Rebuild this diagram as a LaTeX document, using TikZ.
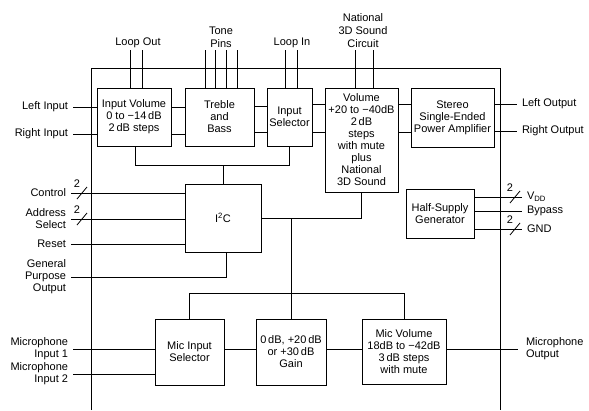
\documentclass[tikz,border=0pt]{standalone}
\usepackage{fontspec}
\setmainfont{Liberation Sans}
\usetikzlibrary{calc}

\newcommand{\buswidth}[2]{%
  \draw (#1) ++(-5,6) -- ++(10,-12);
  \node[font=\fontsize{11}{12}\selectfont,inner sep=0] (#2) at ($(#1)+(-5,-9)$) {2};}

\begin{document}
\begin{tikzpicture}[x=1pt,y=-1pt,line width=0.8pt,
    blk/.style={draw,align=center,inner sep=0,font=\fontsize{11}{12}\selectfont},
    lbl/.style={align=right,inner sep=0,outer sep=5pt,anchor=east,font=\fontsize{11}{12}\selectfont},
    rlbl/.style={align=left,inner sep=0,outer sep=5pt,anchor=west,font=\fontsize{11}{12}\selectfont},
    toplbl/.style={align=center,inner sep=0,anchor=south,font=\fontsize{11}{13}\selectfont}]
  \useasboundingbox (0,0) rectangle (589,410);

  % Chip outline (open at the bottom)
  \draw (91,410) -- (91,68) -- (500,68) -- (500,410);

  % Audio path blocks
  \node[blk,minimum width=74,minimum height=58] (invol) at (134,117)
    {Input Volume\\0 to −14\,dB\\2\,dB steps};
  \node[blk,minimum width=69,minimum height=58] (tone) at (219.5,117)
    {Treble\\and\\Bass};
  \node[blk,minimum width=45,minimum height=58] (insel) at (289.5,117)
    {Input\\Selector};
  \node[blk,minimum width=73,minimum height=104] (vol) at (361.5,140)
    {Volume\\+20 to −40dB\\2\,dB\\steps\\with mute\\plus\\National\\3D Sound};
  \node[blk,minimum width=83,minimum height=59] (amp) at (452.5,117.5)
    {Stereo\\Single-Ended\\Power Amplifier};

  % Control and supply blocks
  \node[blk,minimum width=76,minimum height=68] (i2c) at (223,218) {I\textsuperscript{2}C};
  \node[blk,minimum width=68,minimum height=49] (half) at (440,213.5)
    {Half-Supply\\Generator};

  % Microphone path blocks
  \node[blk,minimum width=69,minimum height=66] (micsel) at (189.5,352)
    {Mic Input\\Selector};
  \node[blk,minimum width=70,minimum height=66] (gain) at (291,352)
    {0\,dB, +20\,dB\\or +30\,dB\\Gain};
  \node[blk,minimum width=84,minimum height=65] (micvol) at (404,351.5)
    {Mic Volume\\18dB to −42dB\\3\,dB steps\\with mute};

  % Stereo signal pairs
  \node[lbl] (lin) at (73,107) {Left Input};
  \node[lbl] (rin) at (73,134) {Right Input};
  \draw (lin.east) -- (invol.west |- lin);
  \draw (rin.east) -- (invol.west |- rin);
  \draw (invol.east |- 0,107) -- (tone.west |- 0,107);
  \draw (invol.east |- 0,134) -- (tone.west |- 0,134);
  \draw (tone.east |- 0,106) -- (insel.west |- 0,106);
  \draw (tone.east |- 0,132) -- (insel.west |- 0,132);
  \draw (insel.east |- 0,104) -- (vol.west |- 0,104);
  \draw (insel.east |- 0,132) -- (vol.west |- 0,132);
  \draw (vol.east |- 0,104) -- (amp.west |- 0,104);
  \draw (vol.east |- 0,132) -- (amp.west |- 0,132);
  \node[rlbl] (lout) at (517,104) {Left Output};
  \node[rlbl] (rout) at (517,131) {Right Output};
  \draw (amp.east |- lout) -- (lout.west);
  \draw (amp.east |- rout) -- (rout.west);

  % External pins on top
  \node[toplbl] (loopout) at (138,48) {Loop Out};
  \node[toplbl] (tonepins) at (221,48) {Tone\\Pins};
  \node[toplbl] (loopin) at (292,48) {Loop In};
  \node[toplbl] (nat) at (363,48) {National\\3D Sound\\Circuit};
  \foreach \x in {130,142} \draw (\x,50) -- (invol.north -| \x,0);
  \foreach \x in {205,215,226,237} \draw (\x,50) -- (tone.north -| \x,0);
  \foreach \x in {285,297} \draw (\x,50) -- (insel.north -| \x,0);
  \foreach \x in {355,373} \draw (\x,50) -- (vol.north -| \x,0);

  % Control bus
  \coordinate (cbus) at (0,165);
  \draw (invol.south -| 135,0) |- (cbus -| insel.south) -- (insel.south);
  \draw (cbus -| i2c.north) -- (i2c.north);
  \draw (i2c.east) -| (vol.south);
  \coordinate (mbus) at (0,293);
  \draw (i2c.east -| gain.north) -- (gain.north);
  \draw (micsel.north) |- (mbus -| micvol.north) -- (micvol.north);

  % I2C inputs
  \node[lbl] (ctl) at (71,193) {Control};
  \node[lbl] (adr) at (71,219) {Address\\Select};
  \node[lbl] (rst) at (71,244) {Reset};
  \node[lbl] (gpo) at (71,277) {General\\Purpose\\Output};
  \draw (ctl.east) -- (i2c.west |- ctl);
  \draw (adr.east) -- (i2c.west |- adr);
  \draw (rst.east) -- (i2c.west |- rst);
  \draw (gpo.east) -| (i2c.south -| 226,0);
  \buswidth{82,193}{nctl}
  \buswidth{82,219}{nadr}

  % Supply pins
  \node[rlbl] (vdd) at (522,197) {V\textsubscript{DD}};
  \node[rlbl] (byp) at (522,211) {Bypass};
  \node[rlbl] (gnd) at (522,229) {GND};
  \draw (half.east |- vdd) -- (vdd.west);
  \draw (half.east |- byp) -- (byp.west);
  \draw (half.east |- gnd) -- (gnd.west);
  \buswidth{515,197}{nvdd}
  \buswidth{515,229}{ngnd}

  % Microphone path
  \node[lbl] (mic1) at (73,349) {Microphone\\Input 1};
  \node[lbl] (mic2) at (73,374) {Microphone\\Input 2};
  \draw (mic1.east) -- (micsel.west |- mic1);
  \draw (mic2.east) -- (micsel.west |- mic2);
  \draw (micsel.east |- 0,349) -- (gain.west |- 0,349);
  \draw (gain.east |- 0,349) -- (micvol.west |- 0,349);
  \node[rlbl,outer sep=8pt] (micout) at (518,349) {Microphone\\Output};
  \draw (micvol.east |- micout) -- (micout.west);
\end{tikzpicture}
\end{document}
